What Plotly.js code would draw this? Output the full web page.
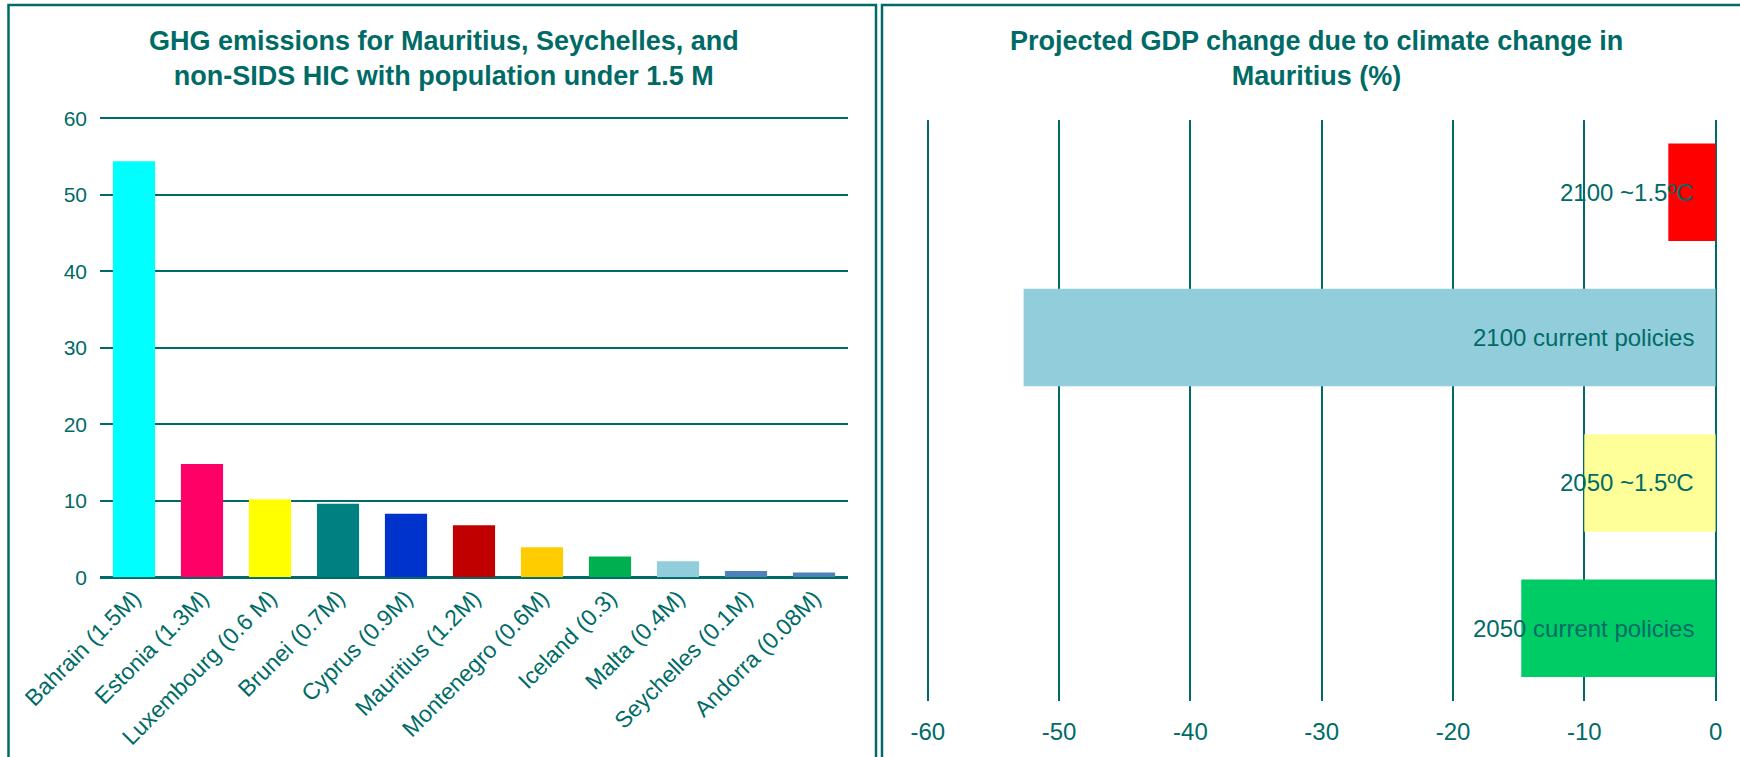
<!DOCTYPE html>
<html>
<head>
<meta charset="utf-8">
<script src="https://cdn.plot.ly/plotly-3.0.1.min.js"></script>
<style>
  html, body { margin: 0; padding: 0; background: #ffffff; }
  #chart { width: 1740px; height: 757px; }
</style>
</head>
<body>
<div id="chart"></div>
<script>
// ---- Left chart data: GHG emissions ----
const ghgCountries = ['Bahrain (1.5M)', 'Estonia (1.3M)', 'Luxembourg (0.6 M)', 'Brunei (0.7M)', 'Cyprus (0.9M)',
  'Mauritius (1.2M)', 'Montenegro (0.6M)', 'Iceland (0.3)', 'Malta (0.4M)', 'Seychelles (0.1M)', 'Andorra (0.08M)'];
const ghgValues = [54.4, 14.8, 10.2, 9.6, 8.3, 6.8, 3.9, 2.7, 2.1, 0.8, 0.6];
const ghgColors = ['#00FFFF', '#FF0066', '#FFFF00', '#008080', '#0033CC', '#C00000', '#FFCC00', '#00B050', '#92CDDC', '#4F81BD', '#4F81BD'];
const ghgTicks = [0, 10, 20, 30, 40, 50, 60];

// ---- Right chart data: projected GDP change ----
const gdpScenarios = ['2050 current policies', '2050 ~1.5ºC', '2100 current policies', '2100 ~1.5ºC'];
const gdpChange = [-14.8, -10.0, -52.7, -3.6];
const gdpColors = ['#00CC66', '#FFFF99', '#92CDDC', '#FF0000'];
const gdpTicks = [-60, -50, -40, -30, -20, -10, 0];

const TEAL = '#006B66';
const FONT = 'Arial, "Liberation Sans", sans-serif';
const W = 1740, H = 757;
const px = v => v / W;
const py = v => (H - v) / H;

const traces = [
  {
    type: 'bar',
    x: ghgCountries,
    y: ghgValues,
    marker: { color: ghgColors },
    width: 0.62,
    xaxis: 'x', yaxis: 'y',
    hoverinfo: 'x+y',
    showlegend: false
  },
  {
    type: 'bar',
    orientation: 'h',
    y: gdpScenarios,
    x: gdpChange,
    marker: { color: gdpColors },
    width: 0.67,
    xaxis: 'x2', yaxis: 'y2',
    hoverinfo: 'x+y',
    showlegend: false
  }
];

const annotations = [
  {
    xref: 'paper', yref: 'paper',
    x: px(444), y: py(59), xanchor: 'center', yanchor: 'middle',
    text: '<b>GHG emissions for Mauritius, Seychelles, and<br>non-SIDS HIC with population under 1.5 M</b>',
    showarrow: false,
    font: { family: FONT, size: 27, color: TEAL }
  },
  {
    xref: 'paper', yref: 'paper',
    x: px(1316), y: py(59), xanchor: 'center', yanchor: 'middle',
    text: '<b>Projected GDP change due to climate change in<br>Mauritius (%)</b>',
    showarrow: false,
    font: { family: FONT, size: 27, color: TEAL }
  }
].concat(gdpScenarios.map(s => ({
  xref: 'x2', yref: 'y2',
  x: 0, y: s,
  xanchor: 'right', yanchor: 'middle',
  xshift: -20,
  text: s,
  showarrow: false,
  font: { family: FONT, size: 24, color: TEAL }
})));

const shapes = [
  { type: 'rect', xref: 'paper', yref: 'paper', x0: px(8.5), x1: px(876), y0: -0.2, y1: py(5),
    line: { color: TEAL, width: 2.5 }, fillcolor: 'rgba(0,0,0,0)', layer: 'above' },
  { type: 'rect', xref: 'paper', yref: 'paper', x0: px(882), x1: 1.2, y0: -0.2, y1: py(5),
    line: { color: TEAL, width: 2.5 }, fillcolor: 'rgba(0,0,0,0)', layer: 'above' }
];

const layout = {
  width: W, height: H,
  margin: { l: 0, r: 0, t: 0, b: 0, pad: 0 },
  paper_bgcolor: '#ffffff',
  plot_bgcolor: '#ffffff',
  font: { family: FONT, color: TEAL },
  showlegend: false,
  xaxis: {
    domain: [px(100), px(848)],
    anchor: 'y',
    type: 'category',
    tickangle: -45,
    tickfont: { family: FONT, size: 23, color: TEAL },
    showgrid: false, showline: false, ticks: '',
    zeroline: false,
    ticklabelstandoff: 2,
    fixedrange: true
  },
  yaxis: {
    domain: [py(577.2), py(116.8)],
    anchor: 'x',
    range: [0, 60.2],
    tickvals: ghgTicks,
    ticktext: ghgTicks.map(String),
    tickfont: { family: FONT, size: 21, color: TEAL },
    showgrid: true, gridcolor: TEAL, gridwidth: 2,
    zeroline: true, zerolinecolor: TEAL, zerolinewidth: 3,
    showline: false, ticks: '',
    ticklabelstandoff: 12,
    fixedrange: true
  },
  xaxis2: {
    domain: [px(901.5), px(1735.3)],
    anchor: 'y2',
    range: [-62, 1.5],
    tickvals: gdpTicks,
    ticktext: gdpTicks.map(String),
    tickfont: { family: FONT, size: 24, color: TEAL },
    showgrid: true, gridcolor: TEAL, gridwidth: 2,
    zeroline: false, showline: false, ticks: '',
    ticklabelstandoff: 14,
    fixedrange: true
  },
  yaxis2: {
    domain: [py(701), py(119.5)],
    anchor: 'x2',
    type: 'category',
    range: [-0.5, 3.5],
    showticklabels: false,
    showgrid: false, zeroline: false, showline: false, ticks: '',
    fixedrange: true
  },
  annotations: annotations,
  shapes: shapes
};

Plotly.newPlot('chart', traces, layout, { displayModeBar: false, staticPlot: true });
</script>
</body>
</html>
